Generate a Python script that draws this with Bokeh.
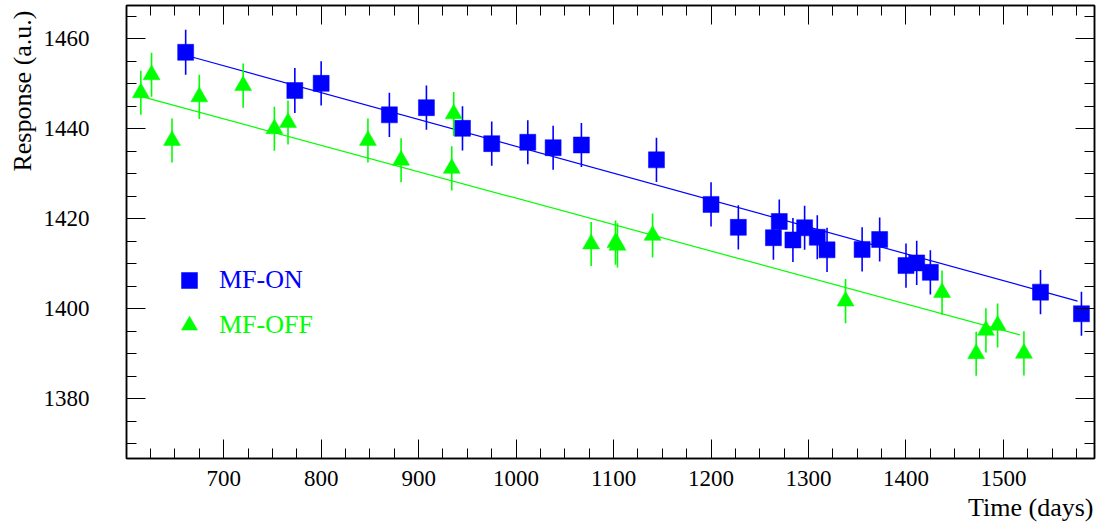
from bokeh.plotting import figure
from bokeh.models import (Range1d, LinearAxis, SingleIntervalTicker, ColumnDataSource,
                          Title, Legend, LegendItem)
from bokeh.embed import file_html
from bokeh.resources import INLINE

# ---- data ----
on_x = [661, 773, 800, 870, 908, 945, 975, 1012, 1038, 1067, 1144, 1200, 1228, 1264,
        1270, 1284, 1296, 1309, 1319, 1355, 1373, 1400, 1411, 1425, 1538, 1580]
on_y = [1457.0, 1448.5, 1450.1, 1443.1, 1444.7, 1440.1, 1436.7, 1437.0, 1435.8, 1436.4,
        1433.1, 1423.2, 1418.1, 1415.8, 1419.4, 1415.3, 1418.0, 1415.9, 1413.1, 1413.2,
        1415.4, 1409.6, 1410.2, 1408.1, 1403.7, 1398.9]
on_err = [5.0, 5.0, 4.9, 4.9, 4.9, 4.9, 4.9, 4.9, 4.9, 4.9, 4.9, 4.9, 4.9, 4.9,
          4.9, 4.9, 4.9, 4.9, 4.9, 4.9, 4.9, 4.9, 4.9, 4.9, 4.9, 4.9]

off_x = [615, 626, 647, 675, 720, 752, 766, 848, 882, 934, 936, 1077, 1102, 1104,
         1140, 1338, 1437, 1472, 1482, 1494, 1521]
off_y = [1448.0, 1452.0, 1437.4, 1447.1, 1449.6, 1440.0, 1441.4, 1437.4, 1433.0, 1431.2,
         1443.3, 1414.4, 1414.7, 1414.1, 1416.3, 1401.7, 1403.6, 1390.0, 1395.2, 1396.3,
         1390.1]
off_err = [4.9, 4.9, 4.9, 4.9, 4.9, 4.9, 4.9, 4.9, 4.9, 4.9, 4.9, 4.9, 4.9, 4.9,
           4.9, 4.9, 4.9, 4.9, 4.9, 4.9, 4.9]

# linear fit lines (end points)
fit_on_x = [660, 1576]
fit_on_y = [1456.4, 1401.7]
fit_off_x = [615, 1517]
fit_off_y = [1447.2, 1394.2]

labels = ["MF-ON", "MF-OFF"]
x_title = "Time (days)"
y_title = "Response (a.u.)"

BLUE = "#0000ff"
GREEN = "#00ff00"
FONT = "Liberation Serif"

p = figure(width=1101, height=531, output_backend="svg", toolbar_location=None,
           x_range=Range1d(600.3, 1593.4), y_range=Range1d(1366.73, 1467.4),
           min_border_left=126, min_border_right=7, min_border_top=5, min_border_bottom=73,
           x_axis_location=None, y_axis_location=None)
p.xgrid.visible = False
p.ygrid.visible = False
p.outline_line_color = "black"
p.outline_line_width = 1.5
p.background_fill_color = "white"
p.border_fill_color = "white"


def make_axis(kind, labelled):
    if kind == "x":
        t = SingleIntervalTicker(interval=100, num_minor_ticks=4)
    else:
        t = SingleIntervalTicker(interval=20, num_minor_ticks=4)
    ax = LinearAxis(ticker=t)
    ax.major_tick_in = 19
    ax.major_tick_out = 0
    ax.minor_tick_in = 10
    ax.minor_tick_out = 0
    ax.axis_line_color = "black"
    ax.axis_line_width = 1.5
    ax.major_tick_line_color = "black"
    ax.minor_tick_line_color = "black"
    ax.major_tick_line_width = 1
    ax.minor_tick_line_width = 1
    if labelled:
        ax.major_label_text_font = FONT
        ax.major_label_text_font_size = "23px"
        ax.major_label_text_color = "black"
    else:
        ax.major_label_text_font_size = "1px"
        ax.major_label_text_alpha = 0
        ax.major_label_standoff = 0
    return ax


xb = make_axis("x", True)
xb.major_label_standoff = 12
yl = make_axis("y", True)
yl.major_label_standoff = 37
p.add_layout(xb, "below")
p.add_layout(yl, "left")
p.add_layout(make_axis("x", False), "above")
p.add_layout(make_axis("y", False), "right")

p.add_layout(Title(text=x_title, align="right", offset=1, standoff=5,
                   text_font=FONT, text_font_size="26px", text_font_style="normal",
                   text_color="black"), "below")
p.add_layout(Title(text=y_title, align="right", offset=5, standoff=7,
                   text_font=FONT, text_font_size="26px", text_font_style="normal",
                   text_color="black"), "left")

src_on = ColumnDataSource(dict(x=on_x, y=on_y,
                               lo=[y - e for y, e in zip(on_y, on_err)],
                               hi=[y + e for y, e in zip(on_y, on_err)]))
src_off = ColumnDataSource(dict(x=off_x, y=off_y,
                                lo=[y - e for y, e in zip(off_y, off_err)],
                                hi=[y + e for y, e in zip(off_y, off_err)]))

p.line(fit_on_x, fit_on_y, line_color=BLUE, line_width=1.2)
p.line(fit_off_x, fit_off_y, line_color=GREEN, line_width=1.2)

p.segment(x0="x", y0="lo", x1="x", y1="hi", source=src_on, line_color=BLUE, line_width=1.6)
r_on = p.scatter("x", "y", source=src_on, marker="square", size=16,
                 fill_color=BLUE, line_color=BLUE, line_width=0.5)
p.segment(x0="x", y0="lo", x1="x", y1="hi", source=src_off, line_color=GREEN, line_width=1.6)
r_off = p.scatter("x", "y", source=src_off, marker="triangle", size=17,
                  fill_color=GREEN, line_color=GREEN, line_width=0.5)

for lab, rend, col, loc in [(labels[0], r_on, BLUE, (43, 154)),
                            (labels[1], r_off, GREEN, (43, 109))]:
    lg = Legend(items=[LegendItem(label=lab, renderers=[rend])], location=loc,
                glyph_width=40, glyph_height=40, label_height=48, label_standoff=10,
                padding=0, margin=0, spacing=0, border_line_color=None,
                background_fill_alpha=0, label_text_color=col,
                label_text_font=FONT, label_text_font_size="26px")
    p.add_layout(lg)

open("out.html", "w").write(file_html(p, INLINE))
